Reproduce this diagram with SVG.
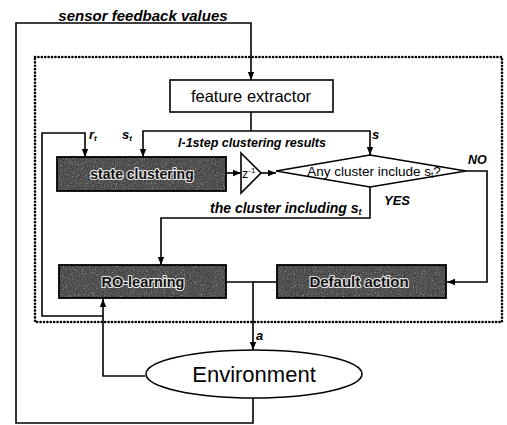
<svg xmlns="http://www.w3.org/2000/svg" width="507" height="425" viewBox="0 0 507 425">
  <style>
    .ln { fill: none; stroke: #000; stroke-width: 1.6; }
    .arr { marker-end: url(#ah); }
    .box { fill: #fff; stroke: #000; stroke-width: 1.6; }
    .frame { fill: none; stroke: #000; stroke-width: 1.8; }
    .lbl { font-family: "Liberation Sans", Arial, sans-serif; font-style: italic; font-weight: bold; fill: #000; }
    .plain { font-family: "Liberation Sans", Arial, sans-serif; fill: #000; }
    .dark { font-family: "Liberation Sans", Arial, sans-serif; font-weight: bold; fill: #111; stroke: #e8e8e8; stroke-width: 2.2; paint-order: stroke; stroke-linejoin: round; text-anchor: middle; }
    .dots { fill: none; stroke: #000; stroke-width: 2.6; stroke-linecap: round; stroke-dasharray: 0.1 3.3; }
  </style>
  <defs>
    <marker id="ah" markerUnits="userSpaceOnUse" markerWidth="9" markerHeight="8" refX="8" refY="4" orient="auto">
      <path d="M0,0.8 L8,4 L0,7.2 z" fill="#000"/>
    </marker>
    <!-- speckled grey fill for the processing blocks -->
    <filter id="grain" x="0" y="0" width="100%" height="100%" color-interpolation-filters="sRGB">
      <feTurbulence type="fractalNoise" baseFrequency="0.9" numOctaves="2" seed="7"/>
      <feColorMatrix type="saturate" values="0"/>
      <feComponentTransfer>
        <feFuncR type="discrete" tableValues="0.1 0.2 0.28 0.36 0.55 0.82"/>
        <feFuncG type="discrete" tableValues="0.1 0.2 0.28 0.36 0.55 0.82"/>
        <feFuncB type="discrete" tableValues="0.1 0.2 0.28 0.36 0.55 0.82"/>
        <feFuncA type="linear" slope="0" intercept="1"/>
      </feComponentTransfer>
      <feComposite in2="SourceGraphic" operator="in"/>
    </filter>
  </defs>

  <rect width="507" height="425" fill="#fff"/>

  <!-- agent boundary -->
  <rect class="dots" x="35" y="57" width="467" height="265"/>

  <g id="connectors">
    <!-- sensor feedback loop -->
    <path class="ln arr" d="M253,398 V423 H16 V23 H251 V80"/>
    <!-- feature extractor outputs -->
    <path class="ln" d="M251,112 V131"/>
    <path class="ln arr" d="M251,131 H143 V157"/>
    <path class="ln arr" d="M251,131 H370 V155"/>
    <!-- reward loop -->
    <path class="ln arr" d="M103,316 H42 V133 H85 V157"/>
    <!-- environment to RO-learning -->
    <path class="ln arr" d="M145,376 H103 V299"/>
    <!-- clustering to delay, delay to decision -->
    <path class="ln arr" d="M226,173 H241"/>
    <path class="ln arr" d="M261,173 H276"/>
    <!-- YES branch -->
    <path class="ln arr" d="M370,187 V218 H161 V265"/>
    <!-- NO branch -->
    <path class="ln arr" d="M466,171 H487 V282 H447"/>
    <!-- actions to environment -->
    <path class="ln arr" d="M226,282 H253 V350"/>
    <path class="ln" d="M277,282 H253"/>
  </g>

  <!-- connector labels -->
  <text class="lbl" x="143" y="20.5" font-size="15" text-anchor="middle">sensor feedback values</text>
  <text class="lbl" x="178" y="147" font-size="12.5">l-1step clustering results</text>
  <text class="lbl" x="89" y="139" font-size="13">r<tspan font-size="8" dy="2">t</tspan></text>
  <text class="lbl" x="122" y="139" font-size="13">s<tspan font-size="8" dy="2">t</tspan></text>
  <text class="lbl" x="372" y="139" font-size="13">s</text>
  <text class="lbl" x="468" y="164" font-size="12.5">NO</text>
  <text class="lbl" x="384" y="205" font-size="13">YES</text>
  <text class="lbl" x="210" y="213" font-size="14">the cluster including s<tspan font-size="9" dy="2">t</tspan></text>
  <text class="lbl" x="256" y="340" font-size="13">a</text>

  <g id="feature-extractor">
    <rect class="box" x="170" y="80" width="163" height="32"/>
    <text class="plain" x="251" y="102" font-size="16.5" text-anchor="middle">feature extractor</text>
  </g>

  <g id="state-clustering">
    <rect x="57" y="157" width="169" height="34" fill="#444" filter="url(#grain)"/>
    <rect class="frame" x="57" y="157" width="169" height="34"/>
    <text class="dark" x="142" y="179" font-size="14">state clustering</text>
  </g>

  <g id="delay">
    <polygon class="box" points="241,153 261,173 241,193"/>
    <text class="plain" x="242" y="178" font-size="12.5">z<tspan font-size="8" dy="-5">-1</tspan></text>
  </g>

  <g id="decision">
    <polygon class="box" points="276,171 370,155 466,171 370,187"/>
    <text class="plain" x="374" y="176" font-size="13.5" text-anchor="middle">Any cluster include s<tspan font-size="8.5" dy="2">t</tspan><tspan dy="-2">?</tspan></text>
  </g>

  <g id="ro-learning">
    <rect x="59" y="265" width="167" height="33" fill="#444" filter="url(#grain)"/>
    <rect class="frame" x="59" y="265" width="167" height="33"/>
    <text class="dark" x="143" y="287" font-size="14.5">RO-learning</text>
  </g>

  <g id="default-action">
    <rect x="277" y="265" width="169" height="33" fill="#444" filter="url(#grain)"/>
    <rect class="frame" x="277" y="265" width="169" height="33"/>
    <text class="dark" x="359" y="287" font-size="15">Default action</text>
  </g>

  <g id="environment">
    <ellipse class="box" cx="254" cy="374" rx="108" ry="24"/>
    <text class="plain" x="254" y="382" font-size="22" text-anchor="middle">Environment</text>
  </g>
</svg>
